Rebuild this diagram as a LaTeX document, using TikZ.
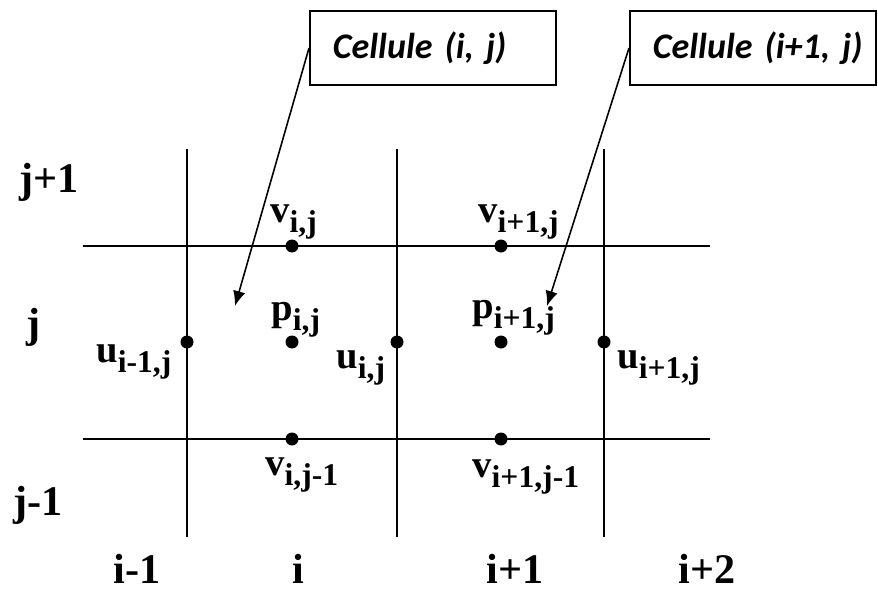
\documentclass[tikz,border=0pt]{standalone}
\usepackage{fontspec}
\setmainfont{Liberation Serif}
\newfontfamily\cellfont{Carlito}
\usepackage{tikz}
\usetikzlibrary{arrows.meta,positioning}
\newcommand{\lab}[2]{#1\raisebox{-2mm}{\fontsize{18}{18}\selectfont #2}}

\begin{document}
\begin{tikzpicture}[
  x=0.2mm, y=-0.2mm,
  gridline/.style={line width=1.4pt},
  dot/.style={circle, fill, inner sep=0pt, minimum size=2.6mm},
  idx/.style={font=\fontsize{24}{24}\selectfont\bfseries, inner sep=0pt, anchor=base},
  var/.style={font=\fontsize{22}{22}\selectfont\bfseries, inner sep=0pt, anchor=base west},
  cell/.style={draw, line width=1.1pt, anchor=west, text width=40mm, align=left, inner xsep=4.6mm, minimum height=14.8mm, font=\cellfont\fontsize{20.5}{20.5}\selectfont\bfseries\itshape},
  >={Latex[length=3mm,width=2.5mm]}
]
\useasboundingbox (0,0) rectangle (878,591);
\draw[gridline] (83,246) -- (710,246);
\draw[gridline] (83,439) -- (710,439);
\foreach \x in {187,397,604}
  \draw[gridline, line width=1.6pt] (\x,149) -- (\x,537);
\node[dot] (uim1j) at (187,342) {};
\node[dot] (uij) at (397,342) {};
\node[dot] (ui1j) at (604,342) {};
\node[dot] (vij) at (292,246) {};
\node[dot] (vi1j) at (501,246) {};
\node[dot] (pij) at (292,342) {};
\node[dot] (pi1j) at (501,342) {};
\node[dot] (vijm1) at (292,439) {};
\node[dot] (vi1jm1) at (501,439) {};
\node[var] (lvij) at (270,222) {\lab{v}{i,j}};
\node[var] (lvi1j) at (478,222) {\lab{v}{i+1,j}};
\node[var] (lpij) at (271,320) {\lab{p}{i,j}};
\node[var] (lpi1j) at (472,318) {\lab{p}{i+1,j}};
\node[var] (luim1j) at (96,362) {\lab{u}{i-1,j}};
\node[var] (luij) at (336,368) {\lab{u}{i,j}};
\node[var] (lui1j) at (617,368) {\lab{u}{i+1,j}};
\node[var] (lvijm1) at (265,475) {\lab{v}{i,j-1}};
\node[var] (lvi1jm1) at (472,477) {\lab{v}{i+1,j-1}};
\node[idx] (jp1) at (49,192) {j+1};
\node[idx] (j) at (34,337) {j};
\node[idx] (jm1) at (38,515) {j-1};
\node[idx] (im1) at (137,583) {i-1};
\node[idx] (i) at (298,583) {i};
\node[idx] (ip1) at (515,583) {i+1};
\node[idx] (ip2) at (707,583) {i+2};
\node[cell] (cellij) at (309,48) {\mbox{Cellule (i, j)}};
\node[cell] (celli1j) at (629,48) {\mbox{Cellule (i+1, j)}};
\coordinate (tipij) at (235,306);
\coordinate (tipi1j) at (547,306);
\draw[->, line width=0.9pt] (cellij.west) -- (tipij);
\draw[->, line width=0.9pt] (celli1j.west) -- (tipi1j);
\end{tikzpicture}
\end{document}
